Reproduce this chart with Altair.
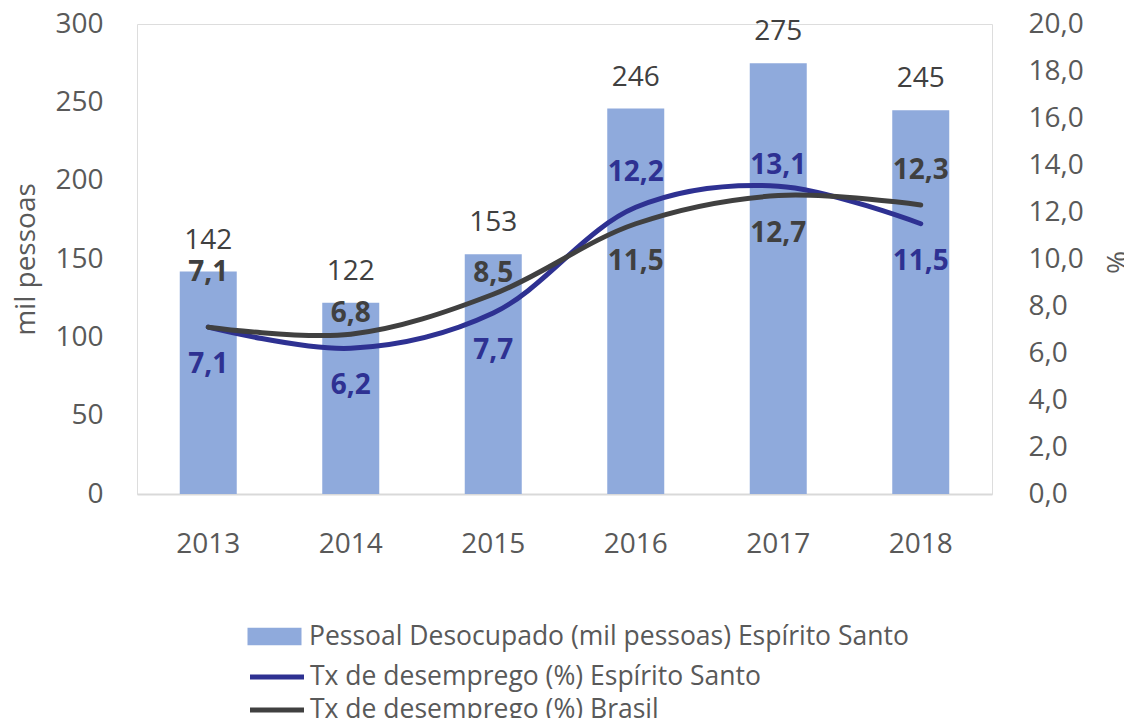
import altair as alt
import pandas as pd

years = ["2013", "2014", "2015", "2016", "2017", "2018"]
desocupados = [142, 122, 153, 246, 275, 245]
taxa_es = [7.1, 6.2, 7.7, 12.2, 13.1, 11.5]
taxa_br = [7.1, 6.8, 8.5, 11.5, 12.7, 12.3]
pos_es = ["below", "below", "below", "above", "near", "below"]
pos_br = ["high", "near", "near", "below", "below", "above"]

BAR_NAME = "Pessoal Desocupado (mil pessoas) Espírito Santo"
ES_NAME = "Tx de desemprego (%) Espírito Santo"
BR_NAME = "Tx de desemprego (%) Brasil"

FONT = "Open Sans"
AXIS_COLOR = "#595959"

bars_df = pd.DataFrame({"year": years, "value": desocupados, "series": BAR_NAME})
lines_df = pd.concat([
    pd.DataFrame({"year": years, "value": taxa_es, "series": ES_NAME, "pos": pos_es}),
    pd.DataFrame({"year": years, "value": taxa_br, "series": BR_NAME, "pos": pos_br}),
], ignore_index=True)

x_enc = alt.X(
    "year:N",
    sort=years,
    scale=alt.Scale(paddingInner=0.6, paddingOuter=0.3),
    axis=alt.Axis(
        title=None, labelAngle=0, ticks=False, domainColor="#D9D9D9", domainWidth=2,
        labelFontSize=28, labelColor=AXIS_COLOR, labelPadding=36, labelFont=FONT,
    ),
)

y_left = alt.Y(
    "value:Q",
    scale=alt.Scale(domain=[0, 300]),
    axis=alt.Axis(
        title="mil pessoas", values=[0, 50, 100, 150, 200, 250, 300], grid=False,
        ticks=False, domain=False, labelFontSize=28, labelColor=AXIS_COLOR,
        labelPadding=34, titleFontSize=28, titleColor=AXIS_COLOR, titleFontWeight="normal",
        titlePadding=14, labelFont=FONT, titleFont=FONT,
    ),
)

bars = alt.Chart(bars_df).mark_bar(opacity=1).encode(
    x=x_enc,
    y=y_left,
    fill=alt.Fill(
        "series:N",
        scale=alt.Scale(domain=[BAR_NAME], range=["#8FAADC"]),
        legend=alt.Legend(
            title=None, orient="none", legendX=124, legendY=599,
            symbolType="M-2,-0.64H2V0.64H-2Z", symbolSize=729, symbolStrokeWidth=0,
            labelFontSize=26.5, labelColor=AXIS_COLOR, labelLimit=1000, labelOffset=21,
            labelFont=FONT,
        ),
    ),
)

bar_text = alt.Chart(bars_df).mark_text(
    dy=-31, fontSize=28, color="#404040", font=FONT, baseline="middle"
).encode(x=x_enc, y=alt.Y("value:Q"), text=alt.Text("value:Q"))

left_layer = alt.layer(bars, bar_text)

y_right = alt.Y(
    "value:Q",
    scale=alt.Scale(domain=[0, 20]),
    axis=alt.Axis(
        title="%", orient="right", values=list(range(0, 21, 2)), grid=False,
        ticks=False, domain=False, labelFontSize=28, labelColor=AXIS_COLOR,
        labelPadding=36, titleFontSize=28, titleColor=AXIS_COLOR, titleFontWeight="normal",
        titleAngle=270, titleX=126, titleY=238, titleAlign="center", titleBaseline="middle",
        labelFont=FONT, titleFont=FONT,
        labelExpr="replace(format(datum.value, '.1f'), '.', ',')",
    ),
)

color_scale = alt.Scale(domain=[ES_NAME, BR_NAME], range=["#2E3192", "#404040"])

lines = alt.Chart(lines_df).mark_line(
    strokeWidth=5, strokeCap="round", interpolate="catmull-rom"
).encode(
    x=x_enc,
    y=y_right,
    stroke=alt.Stroke(
        "series:N", scale=color_scale, sort=[ES_NAME, BR_NAME],
        legend=alt.Legend(
            title=None, orient="none", legendX=124, legendY=637,
            symbolType="M-2,0H2", symbolSize=729, symbolStrokeWidth=5,
            labelFontSize=26.5, labelColor=AXIS_COLOR, labelLimit=1000, labelOffset=17,
            labelFont=FONT, rowPadding=3,
        ),
    ),
    detail="series:N",
)

base_txt = alt.Chart(lines_df).transform_calculate(
    label="replace(format(datum.value, '.1f'), '.', ',')"
)


def label_layer(pos, dy):
    return base_txt.transform_filter(alt.datum.pos == pos).mark_text(
        dy=dy, fontSize=28, fontWeight="bold", font=FONT, baseline="middle"
    ).encode(
        x=x_enc,
        y=alt.Y("value:Q"),
        text="label:N",
        color=alt.Color("series:N", scale=color_scale, legend=None),
    )


right_layer = alt.layer(
    lines,
    label_layer("near", -20),
    label_layer("above", -34),
    label_layer("below", 38),
    label_layer("high", -54),
)

chart = alt.layer(left_layer, right_layer).resolve_scale(
    y="independent", color="independent"
).properties(
    width=855, height=470,
    autosize=alt.AutoSizeParams(type="none"),
    padding={"left": 129, "top": 16, "right": 132, "bottom": 224},
).configure_view(stroke=None).configure(font=FONT)

chart.save("out.html", embed_options={"renderer": "svg", "actions": False})
